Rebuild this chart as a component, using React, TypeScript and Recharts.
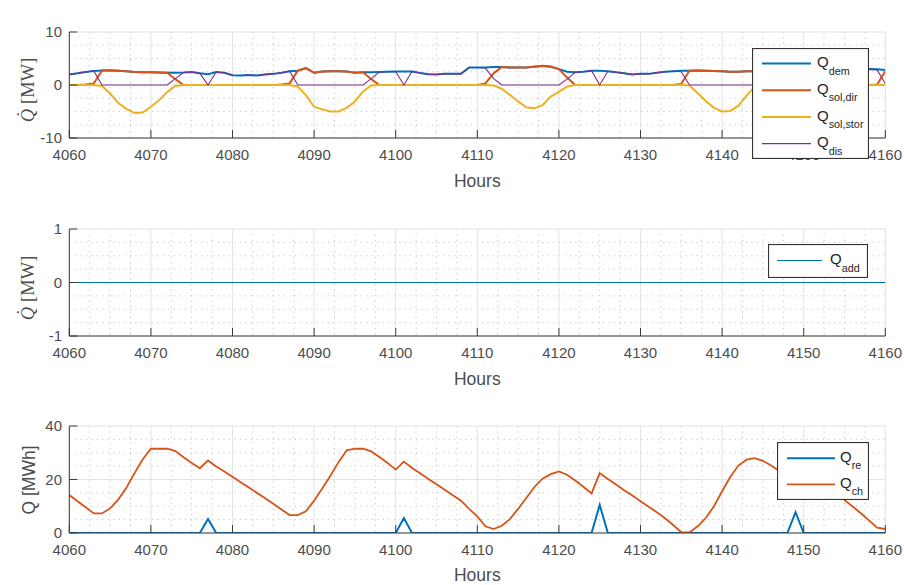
import React from 'react';
import { LineChart, Line, XAxis, YAxis, CartesianGrid, Legend } from 'recharts';

const FONT = "'Liberation Sans', Arial, Helvetica, sans-serif";
const SERIF = "'Liberation Serif', 'Times New Roman', serif";
const TXT = '#4d4d4d';
const AX = '#3a3a3a';

// x categories (hours)
const hours: number[] = Array.from({ length: 101 }, (_, i) => 4060 + i);
const xTicks = [4060, 4070, 4080, 4090, 4100, 4110, 4120, 4130, 4140, 4150, 4160];
const xMinor: number[] = Array.from({ length: 41 }, (_, i) => 4060 + i * 2.5).filter((v) => v % 10 !== 0);

// a) System Overview [MW]
const qDem = [
  2.0, 2.2, 2.45, 2.65, 2.75, 2.75, 2.7, 2.6, 2.45, 2.4,
  2.4, 2.35, 2.3, 2.3, 2.35, 2.45, 2.2, 2.05, 2.45, 2.3,
  1.85, 1.8, 1.9, 1.8, 2.0, 2.1, 2.3, 2.6, 2.7, 3.2,
  2.3, 2.55, 2.6, 2.6, 2.55, 2.3, 2.4, 2.4, 2.45, 2.5,
  2.55, 2.55, 2.55, 2.25, 2.05, 2.0, 2.1, 2.1, 2.1, 3.3,
  3.3, 3.3, 3.4, 3.4, 3.3, 3.3, 3.3, 3.45, 3.6, 3.45,
  3.0, 2.5, 2.4, 2.5, 2.7, 2.7, 2.6, 2.4, 2.2, 2.0,
  2.1, 2.1, 2.3, 2.5, 2.6, 2.7, 2.7, 2.75, 2.7, 2.65,
  2.6, 2.5, 2.5, 2.6, 2.6, 2.5, 2.4, 2.3, 2.3, 2.4,
  2.5, 2.5, 2.6, 2.7, 2.8, 2.8, 2.9, 2.9, 3.0, 2.95,
  2.85,
];
const qSolDir = [
  0, 0, 0.1, 0.3, 2.75, 2.8, 2.7, 2.6, 2.45, 2.4,
  2.4, 2.35, 2.3, 1.1, 0, 0, 0, 0, 0, 0,
  0, 0, 0, 0, 0, 0, 0.1, 0.3, 2.7, 3.2,
  2.3, 2.55, 2.6, 2.6, 2.55, 2.3, 2.4, 1.1, 0, 0,
  0, 0, 0, 0, 0, 0, 0, 0, 0, 0,
  0, 0.3, 2.2, 3.4, 3.3, 3.3, 3.3, 3.5, 3.65, 3.5,
  3.0, 1.4, 0, 0, 0, 0, 0, 0, 0, 0,
  0, 0, 0, 0, 0, 0.2, 2.7, 2.75, 2.7, 2.65,
  2.6, 2.5, 2.5, 2.6, 2.6, 1.2, 0, 0, 0, 0,
  0, 0, 0, 0, 0, 0, 0, 0, 0, 0.1,
  2.6,
];
const qSolStor = [
  0, 0, 0, 0, -0.2, -1.6, -3.4, -4.5, -5.3, -5.2,
  -4.1, -2.9, -1.3, -0.2, 0, 0, 0, 0, 0, 0,
  0, 0, 0, 0, 0, 0, 0, 0, -0.3, -1.9,
  -4.1, -4.6, -5.0, -5.0, -4.3, -3.1, -1.2, -0.1, 0, 0,
  0, 0, 0, 0, 0, 0, 0, 0, 0, 0,
  0, 0, -0.1, -0.7, -1.9, -3.1, -4.2, -4.4, -3.8, -2.2,
  -1.3, -0.3, 0, 0, 0, 0, 0, 0, 0, 0,
  0, 0, 0, 0, 0, 0, -0.1, -1.5, -3.0, -4.3,
  -5.0, -4.9, -3.9, -2.0, -0.3, 0, 0, 0, 0, 0,
  0, 0, 0, 0, 0, 0, 0, 0, 0, 0,
  0,
];
const qDis = [
  2.0, 2.2, 2.45, 2.65, 0, 0, 0, 0, 0, 0,
  0, 0, 0, 1.2, 2.35, 2.45, 2.2, 0, 2.45, 2.3,
  1.85, 1.8, 1.9, 1.8, 2.0, 2.1, 2.3, 2.6, 0, 0,
  0, 0, 0, 0, 0, 0, 0, 1.2, 2.45, 2.5,
  2.55, 0, 2.55, 2.25, 2.05, 2.0, 2.1, 2.1, 2.1, 3.3,
  3.3, 3.2, 1.2, 0, 0, 0, 0, 0, 0, 0,
  0, 1.1, 2.4, 2.5, 2.7, 0, 2.6, 2.4, 2.2, 2.0,
  2.1, 2.1, 2.3, 2.5, 2.6, 2.5, 0, 0, 0, 0,
  0, 0, 0, 0, 0, 1.2, 2.4, 2.3, 2.3, 0,
  2.5, 2.5, 2.6, 2.7, 2.8, 2.8, 2.9, 2.9, 3.0, 2.85,
  0.3,
];

// b) Irregular demand [MW]
const qAdd = [
  0, 0, 0, 0, 0, 0, 0, 0, 0, 0,
  0, 0, 0, 0, 0, 0, 0, 0, 0, 0,
  0, 0, 0, 0, 0, 0, 0, 0, 0, 0,
  0, 0, 0, 0, 0, 0, 0, 0, 0, 0,
  0, 0, 0, 0, 0, 0, 0, 0, 0, 0,
  0, 0, 0, 0, 0, 0, 0, 0, 0, 0,
  0, 0, 0, 0, 0, 0, 0, 0, 0, 0,
  0, 0, 0, 0, 0, 0, 0, 0, 0, 0,
  0, 0, 0, 0, 0, 0, 0, 0, 0, 0,
  0, 0, 0, 0, 0, 0, 0, 0, 0, 0,
  0,
];

// c) Storage [MWh]
const qRe = [
  0, 0, 0, 0, 0, 0, 0, 0, 0, 0,
  0, 0, 0, 0, 0, 0, 0, 5.2, 0, 0,
  0, 0, 0, 0, 0, 0, 0, 0, 0, 0,
  0, 0, 0, 0, 0, 0, 0, 0, 0, 0,
  0, 5.6, 0, 0, 0, 0, 0, 0, 0, 0,
  0, 0, 0, 0, 0, 0, 0, 0, 0, 0,
  0, 0, 0, 0, 0, 10.5, 0, 0, 0, 0,
  0, 0, 0, 0, 0, 0, 0, 0, 0, 0,
  0, 0, 0, 0, 0, 0, 0, 0, 0, 7.8,
  0, 0, 0, 0, 0, 0, 0, 0, 0, 0,
  0,
];
const qCh = [
  14.2, 11.9, 9.6, 7.3, 7.3, 9.2, 12.5, 16.9, 22.4, 27.6,
  31.5, 31.5, 31.5, 30.6, 28.3, 26.2, 24.2, 27.1, 24.9, 23.0,
  21.0, 19.0, 17.0, 15.0, 13.0, 10.9, 8.8, 6.7, 6.7, 8.1,
  12.1, 16.6, 21.4, 26.5, 30.9, 31.5, 31.5, 30.5, 28.4, 26.2,
  23.7, 26.7, 24.3, 22.3, 20.2, 18.2, 16.2, 14.1, 12.1, 9.0,
  6.2, 2.5, 1.5, 2.7, 5.2, 9.0, 13.1, 17.2, 20.3, 22.0,
  23.0, 21.8, 19.6, 17.3, 14.8, 22.4, 20.2, 18.1, 16.0, 14.0,
  11.9, 9.8, 7.8, 5.5, 3.0, 0.3, 0.2, 2.5, 5.6, 10.0,
  15.6, 20.9, 25.2, 27.4, 28.0, 27.0, 25.2, 23.2, 21.0, 26.5,
  24.2, 21.9, 19.6, 17.2, 14.8, 12.3, 9.9, 7.4, 4.7, 2.0,
  1.5,
];

const data = hours.map((h, i) => ({
  h,
  dem: qDem[i],
  soldir: qSolDir[i],
  solstor: qSolStor[i],
  dis: qDis[i],
  add: qAdd[i],
  re: qRe[i],
  ch: qCh[i],
}));

type Series = { key: string; color: string; width: number; sub: string };

const seriesA: Series[] = [
  { key: 'dem', color: '#0072BD', width: 2, sub: 'dem' },
  { key: 'soldir', color: '#D95319', width: 2, sub: 'sol,dir' },
  { key: 'solstor', color: '#EDB120', width: 2, sub: 'sol,stor' },
  { key: 'dis', color: '#7E2F8E', width: 1.1, sub: 'dis' },
];
const seriesB: Series[] = [{ key: 'add', color: '#0072BD', width: 1.2, sub: 'add' }];
const seriesC: Series[] = [
  { key: 're', color: '#0072BD', width: 2, sub: 're' },
  { key: 'ch', color: '#D95319', width: 1.8, sub: 'ch' },
];

type LegendCfg = { left: number; top: number; w: number; h: number; lx1: number; lx2: number; tx: number; y0: number; dy: number };

function LegendBox({ cfg, items }: { cfg: LegendCfg; items: Series[] }) {
  return (
    <svg width={cfg.w} height={cfg.h} style={{ display: 'block' }}>
      <rect x={0.5} y={0.5} width={cfg.w - 1} height={cfg.h - 1} fill="#ffffff" stroke="#333333" strokeWidth={1.2} />
      {items.map((it, i) => {
        const y = cfg.y0 + i * cfg.dy;
        return (
          <g key={it.key}>
            <line x1={cfg.lx1} x2={cfg.lx2} y1={y} y2={y} stroke={it.color} strokeWidth={it.width} />
            <text x={cfg.tx} y={y + 3.8} fontFamily={FONT} fontSize={15} fill="#262626">
              Q<tspan fontSize={10.8} dy={7.2}>{it.sub}</tspan>
            </text>
          </g>
        );
      })}
    </svg>
  );
}

type PanelProps = {
  top: number;
  plotTop: number;
  plotBottom: number;
  yDomain: [number, number];
  yTicks: number[];
  yMinor: number[];
  series: Series[];
  legend: LegendCfg;
  title: React.ReactNode;
  titleY: number;
  hoursDy: number;
  yLabel: React.ReactNode;
};

const W = 904;
const H = 195;
const PLOT_LEFT = 69.3;
const PLOT_RIGHT = 885.3;
const TICK = 8;

function Panel(p: PanelProps) {
  const cx = (PLOT_LEFT + PLOT_RIGHT) / 2;
  const titleLabel = () => (
    <text x={cx} y={p.titleY} textAnchor="middle" fontFamily={FONT} fontWeight="bold" fontSize={18} fill="#1a1a1a">
      {p.title}
    </text>
  );
  const hoursLabel = () => (
    <text x={cx} y={p.plotBottom + p.hoursDy} textAnchor="middle" fontFamily={FONT} fontSize={17.5} fill={TXT}>
      Hours
    </text>
  );
  const yLabel = () => p.yLabel;
  return (
    <div style={{ position: 'absolute', left: 0, top: p.top, width: W, height: H }}>
      <LineChart
        width={W}
        height={H}
        data={data}
        margin={{ top: p.plotTop, right: W - PLOT_RIGHT, bottom: 0, left: 0 }}
      >
        <CartesianGrid
          stroke="#c4c4c4"
          strokeDasharray="1.2 4.3"
          verticalValues={xMinor}
          horizontalValues={p.yMinor}
        />
        <CartesianGrid stroke="#e2e2e2" verticalValues={xTicks} horizontalValues={p.yTicks} />
        <XAxis
          dataKey="h"
          type="number"
          domain={[4060, 4160]}
          ticks={xTicks}
          interval={0}
          allowDataOverflow
          height={H - p.plotBottom}
          tickSize={-TICK}
          tickMargin={TICK + 11.5}
          stroke={AX}
          tick={{ fill: TXT, fontSize: 15, fontFamily: FONT }}
          label={hoursLabel}
        />
        <XAxis
          xAxisId="top"
          orientation="top"
          type="number"
          domain={[4060, 4160]}
          ticks={xTicks}
          interval={0}
          allowDataOverflow
          height={0}
          tickSize={-TICK}
          tick={false}
          stroke={AX}
          label={titleLabel}
        />
        <YAxis
          type="number"
          domain={p.yDomain}
          ticks={p.yTicks}
          interval={0}
          allowDataOverflow
          width={PLOT_LEFT}
          tickSize={-TICK}
          tickMargin={TICK + 7.3}
          stroke={AX}
          tick={{ fill: TXT, fontSize: 15, fontFamily: FONT }}
          label={yLabel}
        />
        <YAxis
          yAxisId="right"
          orientation="right"
          type="number"
          domain={p.yDomain}
          ticks={p.yTicks}
          interval={0}
          allowDataOverflow
          width={0}
          tickSize={-TICK}
          tick={false}
          stroke={AX}
        />
        {p.series.map((s) => (
          <Line
            key={s.key}
            type="linear"
            dataKey={s.key}
            stroke={s.color}
            strokeWidth={s.width}
            dot={false}
            activeDot={false}
            isAnimationActive={false}
          />
        ))}
        <Legend
          layout="vertical"
          align="center"
          verticalAlign="middle"
          wrapperStyle={{ left: p.legend.left, top: p.legend.top, width: p.legend.w, height: p.legend.h }}
          content={() => <LegendBox cfg={p.legend} items={p.series} />}
        />
      </LineChart>
    </div>
  );
}

const serifYLabel = (cy: number) => (
  <text
    transform={`translate(33.5, ${cy}) rotate(-90)`}
    textAnchor="middle"
    fontFamily={SERIF}
    fontSize={18.5}
    fill={TXT}
  >
    <tspan fontStyle="italic">{'Q\u0307'}</tspan>
    <tspan dx={5}>[MW]</tspan>
  </text>
);

export default function App() {
  return (
    <div style={{ position: 'absolute', left: 0, top: 0, width: W, height: 585, background: '#ffffff' }}>
      <Panel
        top={0}
        plotTop={32}
        plotBottom={138}
        yDomain={[-10, 10]}
        yTicks={[-10, 0, 10]}
        yMinor={[-7.5, -5, -2.5, 2.5, 5, 7.5]}
        series={seriesA}
        legend={{ left: 752, top: 47.7, w: 117, h: 111, lx1: 10, lx2: 59, tx: 65, y0: 15.5, dy: 26.7 }}
        title="a) System Overview"
        titleY={23.3}
        hoursDy={49}
        yLabel={serifYLabel(90)}
      />
      <Panel
        top={195}
        plotTop={34}
        plotBottom={141}
        yDomain={[-1, 1]}
        yTicks={[-1, 0, 1]}
        yMinor={[-0.75, -0.5, -0.25, 0.25, 0.5, 0.75]}
        series={seriesB}
        legend={{ left: 768, top: 48.7, w: 100, h: 34, lx1: 9, lx2: 54, tx: 62, y0: 16.5, dy: 26 }}
        title={
          <>
            b) Irregular demand Q<tspan fontSize={13} dy={7}>add</tspan>
          </>
        }
        titleY={17.7}
        hoursDy={49}
        yLabel={serifYLabel(93)}
      />
      <Panel
        top={390}
        plotTop={36}
        plotBottom={143}
        yDomain={[0, 40]}
        yTicks={[0, 20, 40]}
        yMinor={[5, 10, 15, 25, 30, 35]}
        series={seriesC}
        legend={{ left: 776.7, top: 51.7, w: 92, h: 58, lx1: 10, lx2: 58, tx: 63, y0: 16.3, dy: 26 }}
        title="c) Storage charge and filling proces"
        titleY={27.3}
        hoursDy={47.5}
        yLabel={
          <text
            transform="translate(35.4, 90) rotate(-90)"
            textAnchor="middle"
            fontFamily={FONT}
            fontSize={17.5}
            fill={TXT}
          >
            Q [MWh]
          </text>
        }
      />
    </div>
  );
}
